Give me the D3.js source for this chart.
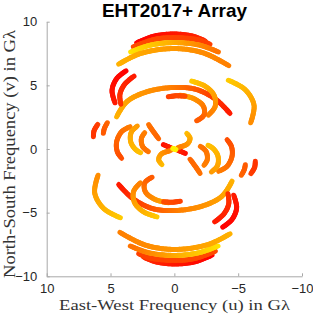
<!DOCTYPE html>
<html>
<head>
<meta charset="utf-8">
<script src="https://cdn.jsdelivr.net/npm/d3@7"></script>
<style>
  body { margin: 0; background: #fff; }
</style>
</head>
<body>
<div id="chart"></div>
<script>
// tick values
const xTicks = [10, 5, 0, -5, -10];
const yTicks = [-10, -5, 0, 5, 10];

// uv tracks (G lambda), one of each conjugate pair; c = colormap position along the track (0 red .. 1 yellow)
const topTracks = [
  { u: [2.95, 1.64, 0.08, -1.49, -2.40], v: [8.33, 8.85, 9.03, 8.85, 8.49], c: [0.0, 0.15] },
  { u: [3.21, 1.64, 0.08, -2.01, -2.79], v: [8.02, 8.59, 8.75, 8.54, 8.22], c: [0.3, 0.25] },
  { u: [3.42, 1.91, 0.08, -2.01, -3.45], v: [7.62, 8.15, 8.36, 8.15, 7.62], c: [0.9, 0.45] },
  { u: [4.36, 2.69, 0.08, -2.27, -4.26], v: [6.66, 7.49, 7.89, 7.55, 6.55], c: [0.7, 0.5] }
];

const midTracks = [
  { u: [4.52, 3.73, 2.17, 0.08, -1.75, -3.32, -4.36], v: [2.53, 3.71, 4.49, 4.83, 4.67, 3.84, 2.79], c: [0.7, 0.5, 0.1] },
  { u: [3.79, 4.52, 4.88, 4.65], v: [6.14, 5.53, 4.62, 3.63], c: [0.0, 0.1] },
  { u: [3.16, 3.89, 4.26, 4.20], v: [5.72, 5.09, 4.31, 3.52], c: [0.1, 0.2] },
  { u: [-1.36, -2.40, -3.11, -3.19, -2.66], v: [5.33, 4.94, 4.23, 3.32, 2.66], c: [0.8, 0.5] },
  { u: [-0.44, -1.49, -2.27, -2.32, -1.75], v: [4.23, 3.97, 3.37, 2.66, 2.22], c: [0.7, 0.35] },
  { u: [0.47, -0.18, -0.84], v: [4.10, 4.18, 4.15], c: [0.25, 0.3] },
  { u: [-4.23, -5.54, -6.24, -5.98], v: [5.40, 4.67, 3.45, 2.06], c: [0.8, 0.55] }
];

const innerTracks = [
  { u: [6.00, 6.29, 6.34], v: [1.93, 1.44, 0.97], c: [0.25, 0.2] },
  { u: [5.25, 5.48, 5.56], v: [2.06, 1.62, 1.23], c: [0.4, 0.35] },
  { u: [3.47, 4.13, 4.52, 4.47, 4.13], v: [1.75, 1.36, 0.57, -0.21, -0.73], c: [0.5, 0.3] },
  { u: [2.90, 3.37, 3.42, 3.05, 2.64], v: [1.80, 1.33, 0.57, -0.03, -0.29], c: [0.6, 0.75] },
  { u: [2.32, 2.58, 2.48, 2.04], v: [1.28, 0.84, 0.18, -0.21], c: [0.5, 0.45] },
  { u: [2.01, 1.70, 1.23], v: [1.91, 1.44, 0.81], c: [0.45, 0.4] },
  { u: [0.86, 0.47, 0.13], v: [0.34, 0.18, 0.03], c: [0.05, 0.15] },
  { u: [-0.97, -1.23, -1.02, -0.31], v: [1.23, 0.84, 0.39, 0.13], c: [0.75, 0.5] },
  { u: [0.12, 0.0], v: [0.05, 0.0], c: [0.95, 0.95] }
];

const width = 313, height = 316;
const margin = { top: 21.7, right: 11, bottom: 39.7, left: 46.7 };

const svg = d3.select("#chart").append("svg")
  .attr("width", width)
  .attr("height", height);

const x = d3.scaleLinear().domain([10, -10]).range([margin.left, width - margin.right]);
const y = d3.scaleLinear().domain([-10, 10]).range([height - margin.bottom, margin.top]);

// matlab "autumn" colormap
const autumn = t => d3.rgb(255, Math.round(255 * t), 0).toString();

// every track plus its conjugate (-u, -v)
const tracks = [...topTracks, ...midTracks, ...innerTracks].flatMap(d => [
  d,
  { u: d.u.map(a => -a), v: d.v.map(a => -a), c: d.c }
]);

const line = d3.line()
  .x(d => x(d[0]))
  .y(d => y(d[1]))
  .curve(d3.curveCatmullRom.alpha(0.5));

const marks = svg.append("g");
tracks.forEach(d => {
  const pts = d.u.map((u, i) => [u, d.v[i]]);
  const path = marks.append("path").attr("d", line(pts)).attr("fill", "none");
  const node = path.node();
  const L = node.getTotalLength();
  const n = Math.max(2, Math.ceil(L / 2));
  const cs = d3.scaleLinear().domain(d.c.map((_, i) => i / (d.c.length - 1))).range(d.c);
  const s = d3.range(n + 1).map(i => node.getPointAtLength(L * i / n));
  path.remove();
  for (let i = 0; i < n; i++) {
    marks.append("line")
      .attr("x1", s[i].x).attr("y1", s[i].y)
      .attr("x2", s[i + 1].x).attr("y2", s[i + 1].y)
      .attr("stroke", autumn(cs((i + 0.5) / n)))
      .attr("stroke-width", 5)
      .attr("stroke-linecap", "round");
  }
});

// axes (matlab style: left + bottom only, ticks inside)
const axisColor = "#a8a8a8";
const xAxis = svg.append("g")
  .attr("transform", `translate(0,${height - margin.bottom})`)
  .call(d3.axisBottom(x).tickValues(xTicks).tickSizeInner(-3).tickSizeOuter(0).tickPadding(7));
const yAxis = svg.append("g")
  .attr("transform", `translate(${margin.left},0)`)
  .call(d3.axisLeft(y).tickValues(yTicks).tickSizeInner(-3).tickSizeOuter(0).tickPadding(9.5));

[xAxis, yAxis].forEach(a => {
  a.select(".domain").attr("stroke", axisColor);
  a.selectAll(".tick line").attr("stroke", axisColor);
  a.selectAll(".tick text")
    .attr("fill", "#262626")
    .style("font-family", "'Liberation Sans', Arial, sans-serif")
    .style("font-size", "13px");
});

// title
svg.append("text")
  .attr("x", 102)
  .attr("y", 16.7)
  .attr("textLength", 145)
  .attr("lengthAdjust", "spacingAndGlyphs")
  .style("font-family", "'Liberation Sans', Arial, sans-serif")
  .style("font-weight", "bold")
  .style("font-size", "19px")
  .text("EHT2017+ Array");

// axis labels
svg.append("text")
  .attr("x", 59)
  .attr("y", 310)
  .attr("textLength", 231)
  .attr("lengthAdjust", "spacingAndGlyphs")
  .attr("fill", "#333")
  .style("font-family", "'Liberation Serif', 'Times New Roman', serif")
  .style("font-size", "15.5px")
  .text("East-West Frequency (u) in G\u03bb");

svg.append("text")
  .attr("transform", "translate(15,278) rotate(-90)")
  .attr("textLength", 248)
  .attr("lengthAdjust", "spacingAndGlyphs")
  .attr("fill", "#333")
  .style("font-family", "'Liberation Serif', 'Times New Roman', serif")
  .style("font-size", "16px")
  .text("North-South Frequency (v) in G\u03bb");
</script>
</body>
</html>
